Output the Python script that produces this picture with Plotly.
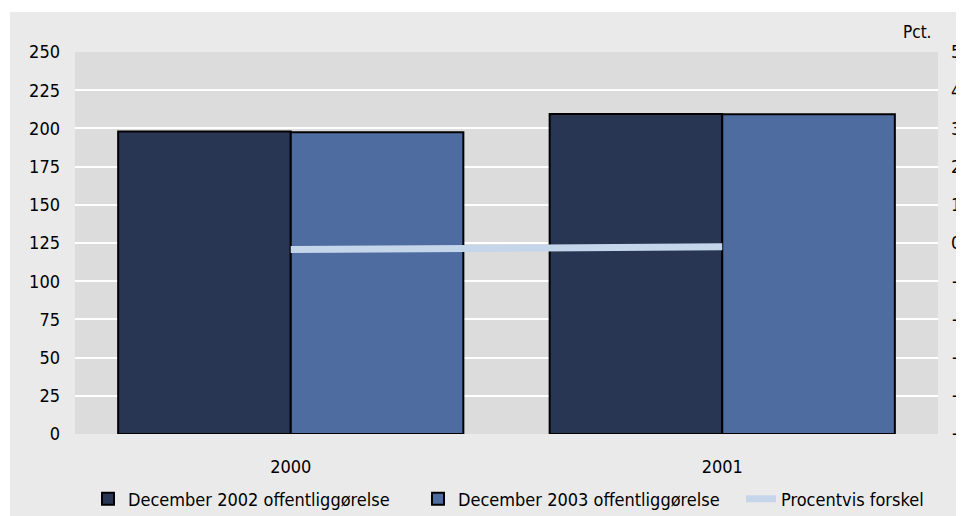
import plotly.graph_objects as go

YEARS = ["2000", "2001"]
DEC_2002 = [198, 209.5]
DEC_2003 = [197.5, 209.2]
PCT_DIFF = [-0.17, -0.1]

LEFT_TICKS = list(range(0, 251, 25))
RIGHT_TICKS = list(range(-5, 6))

COLOURS = {
    "dark": "#283654",
    "blue": "#4E6CA0",
    "line": "#C6D6EA",
}

FONT = "DejaVu Sans Condensed, Liberation Sans Narrow, sans-serif"

fig = go.Figure()

fig.add_trace(go.Bar(
    x=YEARS, y=DEC_2002,
    name="December 2002 offentliggørelse",
    marker=dict(color=COLOURS["dark"], line=dict(color="black", width=2)),
))
fig.add_trace(go.Bar(
    x=YEARS, y=DEC_2003,
    name="December 2003 offentliggørelse",
    marker=dict(color=COLOURS["blue"], line=dict(color="black", width=2)),
))
fig.add_trace(go.Scatter(
    x=YEARS, y=PCT_DIFF,
    name="Procentvis forskel",
    mode="lines",
    line=dict(color=COLOURS["line"], width=7),
    yaxis="y2",
    legend="legend2",
))

# page body has an 8px margin, so the figure is 956x508 and sits at (8, 8)
W, H = 956, 508
ML, MR, MT, MB = 67, 26, 44, 82
PW, PH = W - ML - MR, H - MT - MB


def px_x(x):
    return (x - ML) / PW


def px_y(y):
    return (H - MB - y) / PH


# grey frame behind everything, then the darker plot area
fig.add_shape(type="rect", xref="paper", yref="paper",
              x0=px_x(2), x1=px_x(W), y0=px_y(H), y1=px_y(4),
              fillcolor="#EAEAEA", line=dict(width=0), layer="below")
fig.add_shape(type="rect", xref="paper", yref="paper",
              x0=0, x1=1, y0=0, y1=1,
              fillcolor="#DCDCDC", line=dict(width=0), layer="below")

fig.add_annotation(
    text="Pct.", xref="paper", yref="paper", x=px_x(909), y=px_y(24),
    showarrow=False, xanchor="center", yanchor="middle",
    font=dict(size=17, color="black"),
)

legend_common = dict(
    orientation="h", y=px_y(491),
    xanchor="left", yanchor="middle",
    bgcolor="rgba(0,0,0,0)",
    font=dict(size=18), tracegroupgap=0,
    traceorder="normal",
)

fig.update_layout(
    barmode="group",
    bargap=0.2,
    bargroupgap=0,
    width=W, height=H,
    margin=dict(l=ML, r=MR, t=MT, b=MB, autoexpand=False),
    paper_bgcolor="white",
    plot_bgcolor="rgba(0,0,0,0)",
    font=dict(family=FONT, size=18, color="black"),
    xaxis=dict(
        showgrid=False, zeroline=False, showline=False,
        ticks="", ticklabelstandoff=20, automargin=False,
    ),
    yaxis=dict(
        range=[0, 250], tickvals=LEFT_TICKS,
        showgrid=True, gridcolor="white", gridwidth=2,
        zeroline=False, showline=False, ticklabelstandoff=14,
        automargin=False,
    ),
    yaxis2=dict(
        range=[-5, 5], tickvals=RIGHT_TICKS,
        overlaying="y", side="right",
        showgrid=False, zeroline=False, showline=False,
        ticklabelstandoff=12, automargin=False,
    ),
    legend=dict(x=px_x(80), entrywidth=285, entrywidthmode="pixels",
                **legend_common),
    legend2=dict(x=px_x(733), **legend_common),
)

fig.write_html("out.html")
